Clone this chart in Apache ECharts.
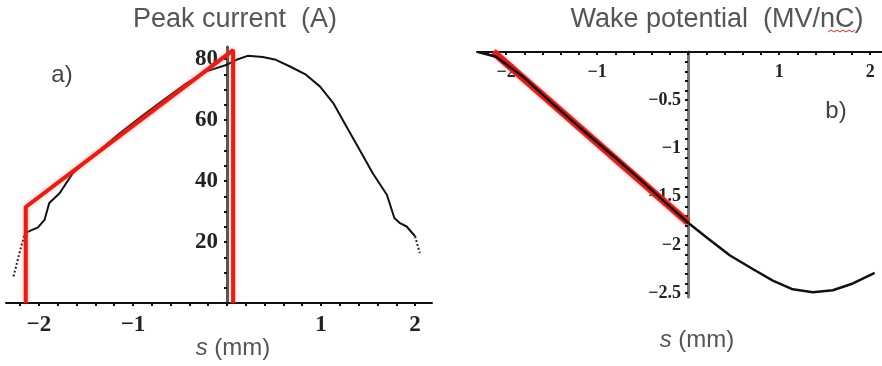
<!DOCTYPE html>
<html>
<head>
<meta charset="utf-8">
<script src="https://cdn.jsdelivr.net/npm/echarts@6/dist/echarts.min.js"></script>
<style>
  html, body { margin: 0; padding: 0; background: #fff; }
  #chart { width: 882px; height: 366px; }
</style>
</head>
<body>
<div id="chart"></div>
<script>
// a) peak current (A) vs s (mm)
const currentDotStart = [[-2.27, 8.7], [-2.21, 16], [-2.15, 22.9]];
const currentSolid = [
  [-2.15, 22.9], [-2.01, 24.8], [-1.94, 27.3], [-1.89, 32.8], [-1.78, 36],
  [-1.64, 42.6], [-1.39, 49.2], [-1.14, 55.7], [-0.89, 61.7], [-0.65, 67.2],
  [-0.43, 72.1], [-0.22, 76], [-0.01, 78.1], [0.1, 79.8], [0.22, 81.1],
  [0.38, 80.7], [0.52, 79.8], [0.67, 77.6], [0.84, 74.9], [0.99, 71],
  [1.13, 65.6], [1.27, 57.9], [1.41, 50.3], [1.55, 42.6], [1.7, 35.5],
  [1.78, 27.9], [1.84, 26.2], [1.91, 25.1], [2.0, 21.9]
];
const currentDotEnd = [[2.0, 21.9], [2.05, 16.4]];
const currentModel = [[-2.14, 0], [-2.14, 31.5], [0.065, 83], [0.065, 0]];

// b) wake potential (MV/nC) vs s (mm)
const wake = [
  [-2.31, 0], [-2.11, -0.05], [-1.81, -0.26], [-1.52, -0.51], [-1.23, -0.75],
  [-1.12, -0.84], [-0.82, -1.08], [-0.53, -1.32], [-0.24, -1.57], [0, -1.77],
  [0.2, -1.92], [0.46, -2.11], [0.71, -2.25], [0.93, -2.37], [1.15, -2.46],
  [1.37, -2.49], [1.59, -2.47], [1.81, -2.4], [2.05, -2.29]
];
const wakeModel = [[-2.14, 0], [0, -1.77]];

// tick labels
const sLabels = [-2, -1, 1, 2];
const currentLabels = [20, 40, 60, 80];
const wakeLabels = [-0.5, -1, -1.5, -2, -2.5];

// minor tick positions
function steps(from, to, step) {
  const out = [];
  const n = Math.round((to - from) / step);
  for (let i = 0; i <= n; i++) out.push(+(from + i * step).toFixed(3));
  return out;
}

const chart = echarts.init(document.getElementById('chart'));

const tickFont = '"Liberation Serif", "DejaVu Serif", serif';
const sansFont = '"Liberation Sans", Arial, sans-serif';
const tickStyle = { show: true, length: 3, lineStyle: { color: '#111', width: 2 } };
const minus = v => (v < 0 ? '\u2212' + Math.abs(v) : '' + v);

const option = {
  animation: false,
  backgroundColor: '#fff',
  grid: [
    { left: 6, top: 47, width: 426, height: 256, outerBoundsMode: 'none', containLabel: false },
    { left: 477, top: 52, width: 405, height: 245, outerBoundsMode: 'none', containLabel: false }
  ],
  xAxis: [
    {
      gridIndex: 0, type: 'value', min: -2.35, max: 2.18,
      splitLine: { show: false },
      axisLine: { onZero: false, lineStyle: { color: '#111', width: 2 } },
      axisTick: Object.assign({ customValues: steps(-2.2, 2.0, 0.2) }, tickStyle),
      axisLabel: {
        customValues: sLabels, margin: 11, color: '#222',
        fontFamily: tickFont, fontWeight: 'bold', fontSize: 23, formatter: minus
      }
    },
    {
      gridIndex: 1, type: 'value', min: -2.32, max: 2.13,
      position: 'bottom', offset: -245,
      splitLine: { show: false },
      axisLine: { onZero: false, lineStyle: { color: '#111', width: 2 } },
      axisTick: Object.assign({ customValues: steps(-2.2, 2.0, 0.2) }, tickStyle),
      axisLabel: {
        customValues: sLabels, margin: 11, color: '#222',
        fontFamily: tickFont, fontWeight: 'bold', fontSize: 18, formatter: minus
      }
    }
  ],
  yAxis: [
    {
      gridIndex: 0, type: 'value', min: 0, max: 84,
      position: 'left', offset: -221,
      splitLine: { show: false },
      axisLine: { onZero: false, lineStyle: { color: '#555', width: 3 } },
      axisTick: Object.assign({ customValues: steps(5, 80, 5) }, tickStyle),
      axisLabel: {
        customValues: currentLabels, margin: 9, color: '#222',
        fontFamily: tickFont, fontWeight: 'bold', fontSize: 23
      }
    },
    {
      gridIndex: 1, type: 'value', min: -2.54, max: 0,
      position: 'left', offset: -211,
      splitLine: { show: false },
      axisLine: { onZero: false, lineStyle: { color: '#777', width: 3 } },
      axisTick: Object.assign({ customValues: steps(-2.5, -0.1, 0.1) }, tickStyle),
      axisLabel: {
        customValues: wakeLabels, margin: 7, color: '#222',
        fontFamily: tickFont, fontWeight: 'bold', fontSize: 18, formatter: minus
      }
    }
  ],
  series: [
    {
      type: 'line', xAxisIndex: 0, yAxisIndex: 0, data: currentDotStart,
      symbol: 'none', lineStyle: { color: '#222', width: 2, type: 'dotted' }
    },
    {
      type: 'line', xAxisIndex: 0, yAxisIndex: 0, data: currentSolid,
      symbol: 'none', lineStyle: { color: '#111', width: 2 }
    },
    {
      type: 'line', xAxisIndex: 0, yAxisIndex: 0, data: currentDotEnd,
      symbol: 'none', lineStyle: { color: '#222', width: 2, type: 'dotted' }
    },
    {
      type: 'line', xAxisIndex: 0, yAxisIndex: 0, data: currentModel,
      symbol: 'none', z: 5, clip: false,
      lineStyle: { color: '#ec1a12', width: 4, shadowBlur: 4, shadowColor: 'rgba(255,120,90,0.6)' }
    },
    {
      type: 'line', xAxisIndex: 1, yAxisIndex: 1, data: wakeModel,
      symbol: 'none', z: 2, clip: false,
      lineStyle: { color: '#ec1a12', width: 7, shadowBlur: 3, shadowColor: 'rgba(255,90,90,0.6)' }
    },
    {
      type: 'line', xAxisIndex: 1, yAxisIndex: 1, data: wake,
      symbol: 'none', z: 3,
      lineStyle: { color: '#111', width: 2.5 }
    }
  ],
  graphic: [
    {
      type: 'text', x: 235, y: 20,
      style: { text: 'Peak current  (A)', font: '27px ' + sansFont,
        fill: '#555', align: 'center', verticalAlign: 'middle' }
    },
    {
      type: 'text', x: 717, y: 20,
      style: { text: 'Wake potential  (MV/nC)', font: '27px ' + sansFont,
        fill: '#555', align: 'center', verticalAlign: 'middle' }
    },
    {
      // spell-check squiggle under "nC"
      type: 'polyline', z: 10,
      shape: { points: [[828, 32], [831, 30], [834, 32], [837, 30], [840, 32], [843, 30], [846, 32], [849, 30], [852, 32], [855, 30]] },
      style: { stroke: '#d22', lineWidth: 1, fill: null }
    },
    {
      type: 'text', x: 62, y: 75,
      style: { text: 'a)', font: '24px ' + sansFont,
        fill: '#444', align: 'center', verticalAlign: 'middle' }
    },
    {
      type: 'text', x: 836, y: 111,
      style: { text: 'b)', font: '24px ' + sansFont,
        fill: '#444', align: 'center', verticalAlign: 'middle' }
    },
    {
      type: 'text', x: 233, y: 348,
      style: {
        text: '{i|s} (mm)', font: '24px ' + sansFont,
        fill: '#555', align: 'center', verticalAlign: 'middle',
        rich: { i: { fontStyle: 'italic', fontSize: 24, fontFamily: sansFont, fill: '#555' } }
      }
    },
    {
      type: 'text', x: 697, y: 340,
      style: {
        text: '{i|s} (mm)', font: '24px ' + sansFont,
        fill: '#555', align: 'center', verticalAlign: 'middle',
        rich: { i: { fontStyle: 'italic', fontSize: 24, fontFamily: sansFont, fill: '#555' } }
      }
    }
  ]
};

chart.setOption(option);
</script>
</body>
</html>
